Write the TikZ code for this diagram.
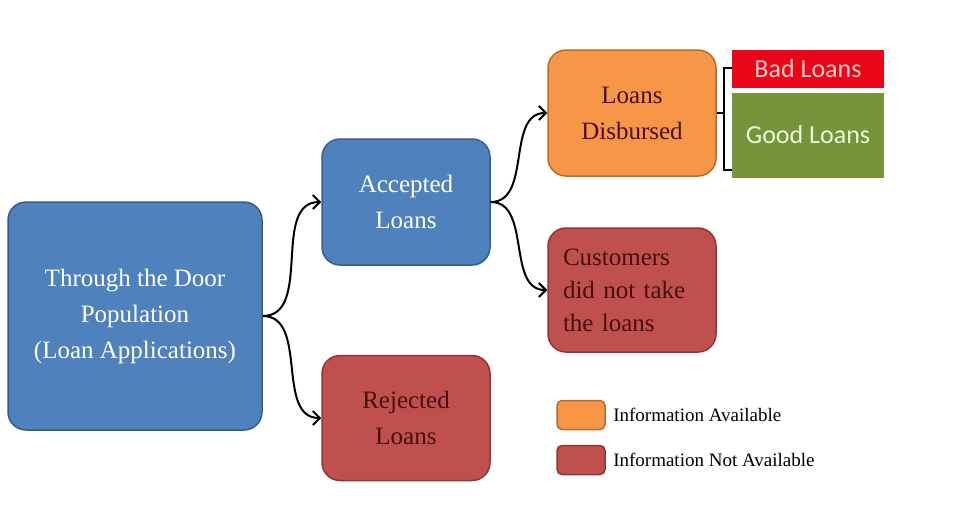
\documentclass[tikz,border=0pt]{standalone}
\usepackage{fontspec}
\setmainfont{Liberation Serif}
\newfontfamily\calibri{Carlito}
\usetikzlibrary{arrows.meta}
\definecolor{boxblue}{RGB}{79,129,189}
\definecolor{edgeblue}{RGB}{56,93,138}
\definecolor{boxred}{RGB}{192,80,77}
\definecolor{edgered}{RGB}{140,56,54}
\definecolor{boxorange}{RGB}{247,150,70}
\definecolor{edgeorange}{RGB}{182,108,48}
\definecolor{badred}{RGB}{232,6,24}
\definecolor{goodgreen}{RGB}{119,147,60}
\definecolor{darktext}{RGB}{70,14,12}
\begin{document}
\begin{tikzpicture}[x=1pt,y=-1pt,
  loanbox/.style={rounded corners=18pt, line width=1.5pt, align=center, font=\fontsize{25}{36}\selectfont, inner sep=0pt},
  bluebox/.style={loanbox, fill=boxblue, draw=edgeblue, text=white},
  redbox/.style={loanbox, fill=boxred, draw=edgered, text=darktext},
  orangebox/.style={loanbox, fill=boxorange, draw=edgeorange, text=darktext},
  flatbox/.style={inner sep=0pt, font=\calibri\fontsize{26}{30}\selectfont},
  keybox/.style={rounded corners=5pt, line width=1.5pt, minimum width=48pt, minimum height=29pt},
  keytext/.style={anchor=west, font=\fontsize{19}{22}\selectfont},
  flow/.style={line width=2pt, -{Straight Barb[length=7pt,width=14pt,line width=2pt]}}]
\useasboundingbox (0,0) rectangle (971,528);
\node[bluebox, minimum width=254pt, minimum height=228pt] (door) at (135,316) {Through the Door\\Population\\(Loan Applications)};
\node[bluebox, minimum width=168pt, minimum height=126pt] (accepted) at (406,202) {Accepted\\Loans};
\node[redbox, minimum width=168pt, minimum height=125pt] (rejected) at (406,418) {Rejected\\Loans};
\node[orangebox, minimum width=168pt, minimum height=126pt] (disbursed) at (632,113) {Loans\\Disbursed};
\node[redbox, minimum width=168pt, minimum height=124pt, text width=138pt, align=left, font=\fontsize{25}{33}\selectfont] (customers) at (632,290) {Customers\\did not take\\the loans};
\node[flatbox, fill=badred, text={rgb,255:red,255;green,205;blue,205}, minimum width=152pt, minimum height=38pt] (bad) at (808,69) {Bad Loans};
\node[flatbox, fill=goodgreen, text={rgb,255:red,235;green,250;blue,215}, minimum width=152pt, minimum height=85pt] (good) at (808,135) {Good Loans};
\draw[flow] (door.east) to[out=0,in=180] (accepted.west);
\draw[flow] (door.east) to[out=0,in=180] (rejected.west);
\draw[flow] (accepted.east) to[out=0,in=180] (disbursed.west);
\draw[flow] (accepted.east) to[out=0,in=180] (customers.west);
\coordinate (bracetop) at (732,68);
\coordinate (bracebot) at (732,170);
\draw[line width=2pt] (bracetop) -- ++(-8,0) |- (bracebot);
\draw[line width=2pt] (disbursed.east) -- (724,113);
\node[keybox, fill=boxorange, draw=edgeorange] (keyinfo) at (581,415) {};
\node[keybox, fill=boxred, draw=edgered] (keynoinfo) at (581,460) {};
\node[keytext] at ([xshift=4pt]keyinfo.east) {Information Available};
\node[keytext] at ([xshift=4pt]keynoinfo.east) {Information Not Available};
\end{tikzpicture}
\end{document}
